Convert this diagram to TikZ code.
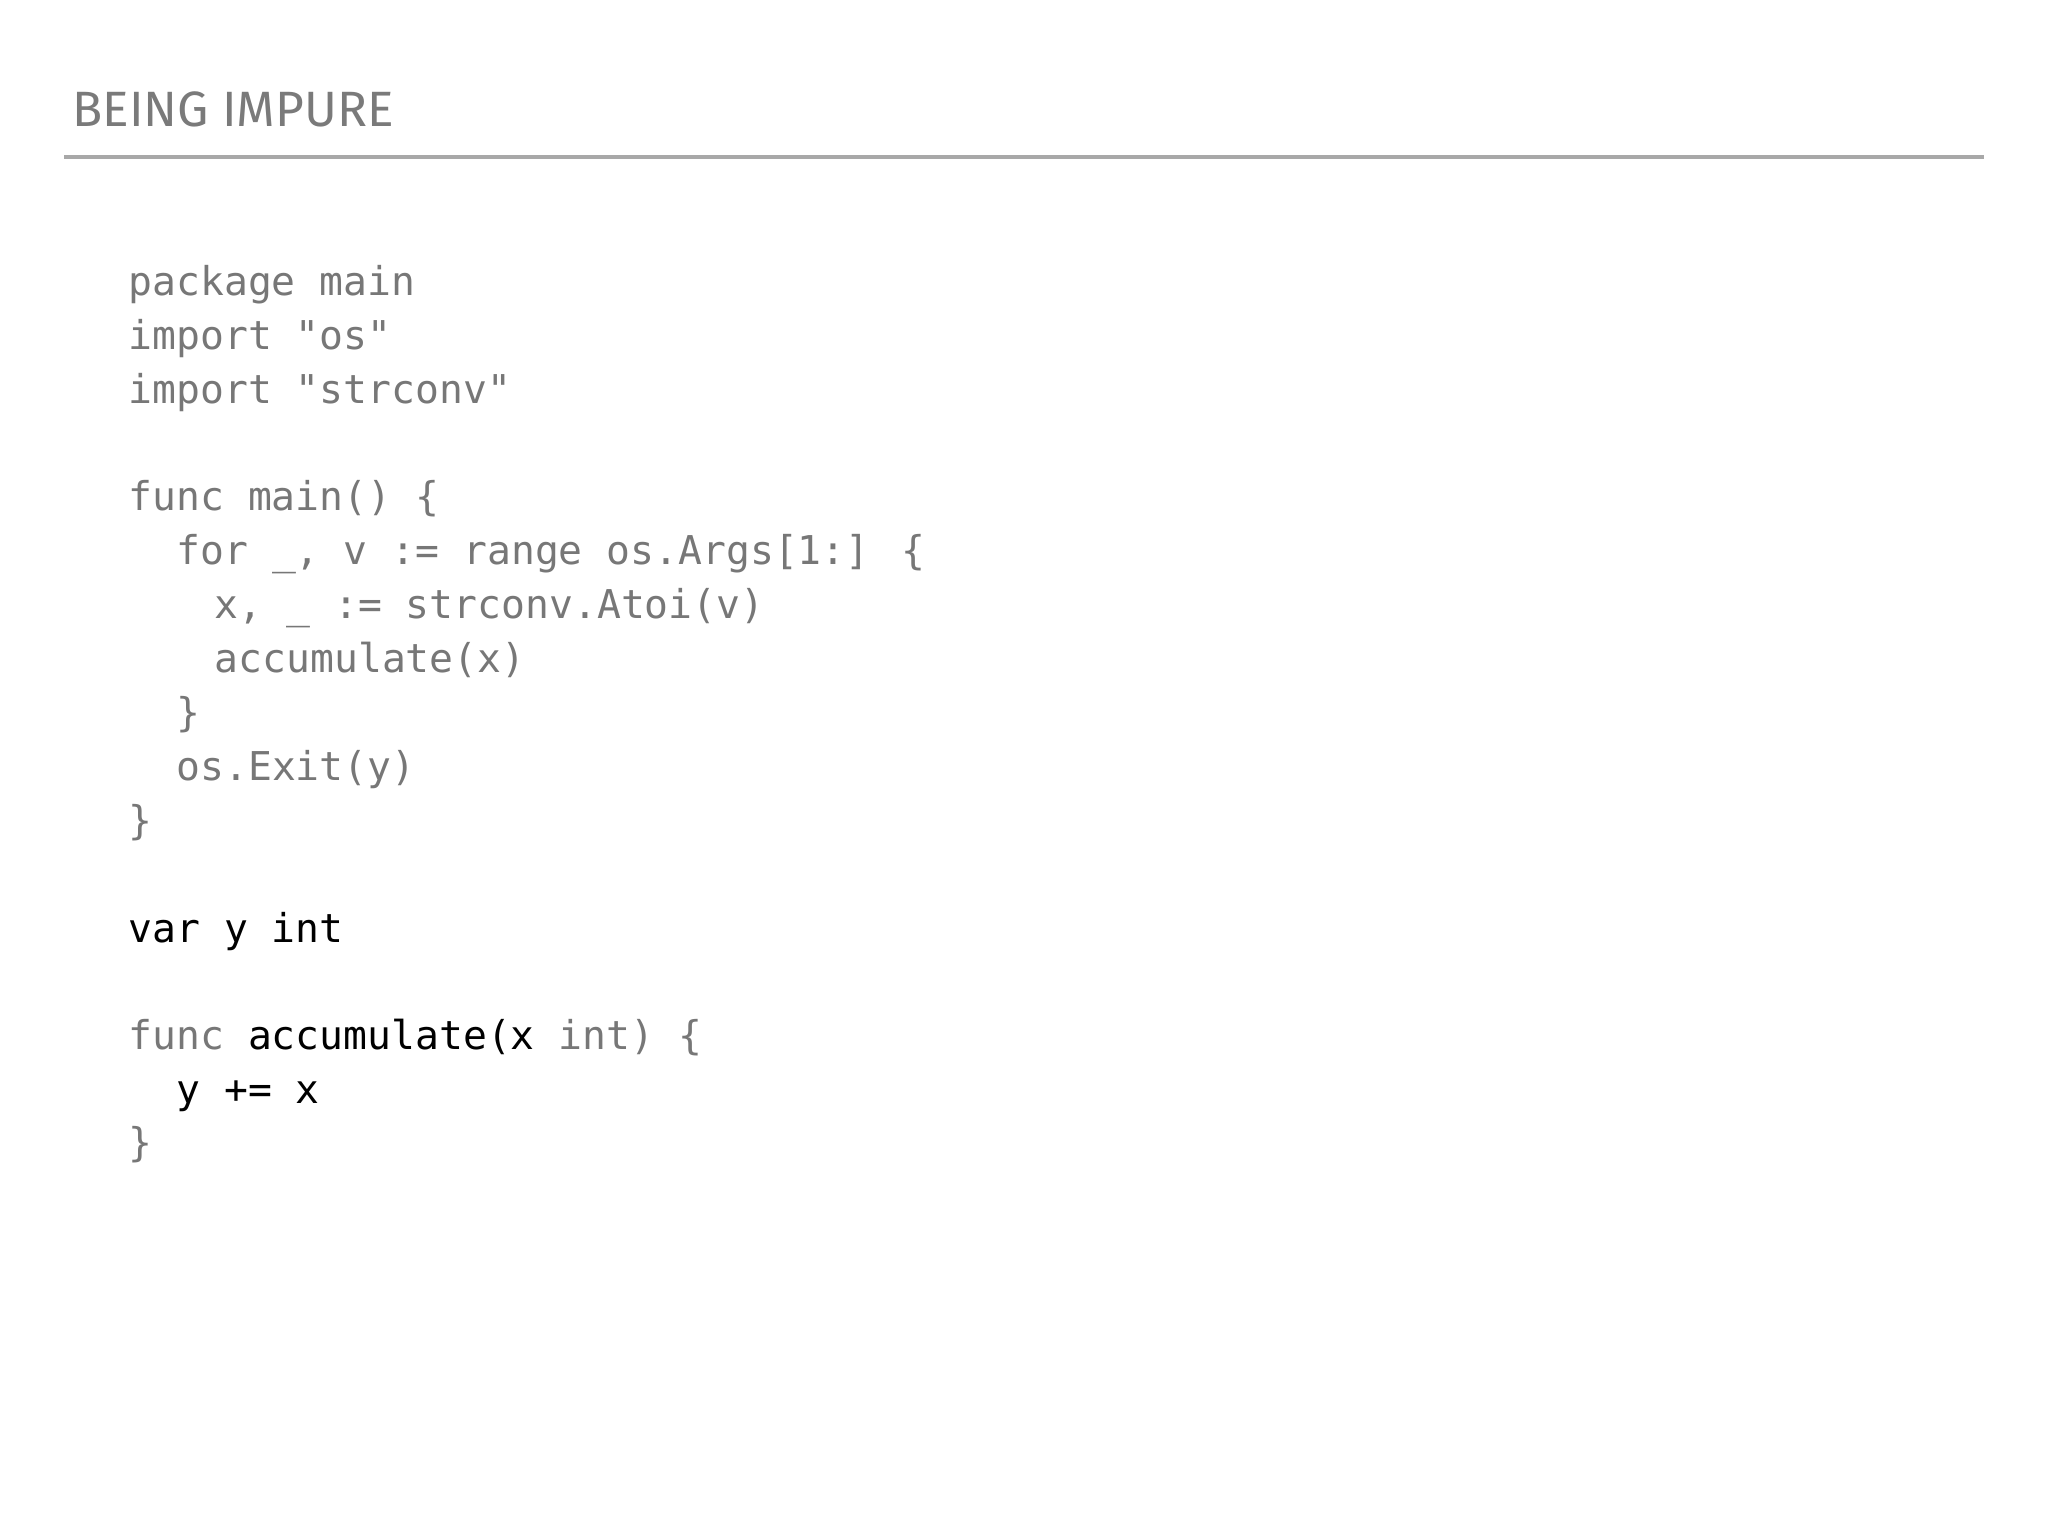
\documentclass[tikz,border=0pt]{standalone}
\usepackage{fontspec}
\setsansfont{Fira Sans}
\newfontfamily\codefont{DejaVu Sans Mono}
\definecolor{codegray}{HTML}{777777}
\definecolor{titlegray}{HTML}{7A7A7A}
\definecolor{rulegray}{HTML}{A8A8A8}
\begin{document}
\begin{tikzpicture}[x=0.5pt,y=-0.5pt,
  code/.style={anchor=base west,inner sep=0pt,font=\codefont\fontsize{15.2pt}{18pt}\selectfont,text=codegray},
  dark/.style={code,text=black}]
\useasboundingbox (0,0) rectangle (1568,1176);
\node[anchor=base west,inner sep=0pt,font=\sffamily\fontsize{19pt}{22pt}\selectfont,text=titlegray] (title) at (55,97) {BEING IMPURE};
\coordinate (rl) at (49,120); \coordinate (rr) at (1519,120);
\draw[rulegray,line width=1.5pt] (rl) -- (rr);
\def\L#1{\fpeval{226+41.3*(#1-1)}}
\node[code] (l1) at (98,226) {package main};
\node[code] (l2) at (98,267.3) {import "os"};
\node[code] (l3) at (98,308.6) {import "strconv"};
\node[code] (l5) at (98,391.2) {func main() \{};
\node[code] (l6) at (134.7,432.5) {for \_, v := range os.Args[1:] \{};
\node[code] (l7) at (164,473.8) {x, \_ := strconv.Atoi(v)};
\node[code] (l8) at (164,515.1) {accumulate(x)};
\node[code] (l9) at (134.7,556.4) {\}};
\node[code] (l10) at (134.7,597.7) {os.Exit(y)};
\node[code] (l11) at (98,639) {\}};
\node[dark] (l13) at (98,721.6) {var y int};
\node[code] (l15) at (98,803.2) {func {\color{black}accumulate(x} int) \{};
\node[dark] (l16) at (134.7,844.5) {y += x};
\node[code] (l17) at (98,885.8) {\}};
\end{tikzpicture}
\end{document}
